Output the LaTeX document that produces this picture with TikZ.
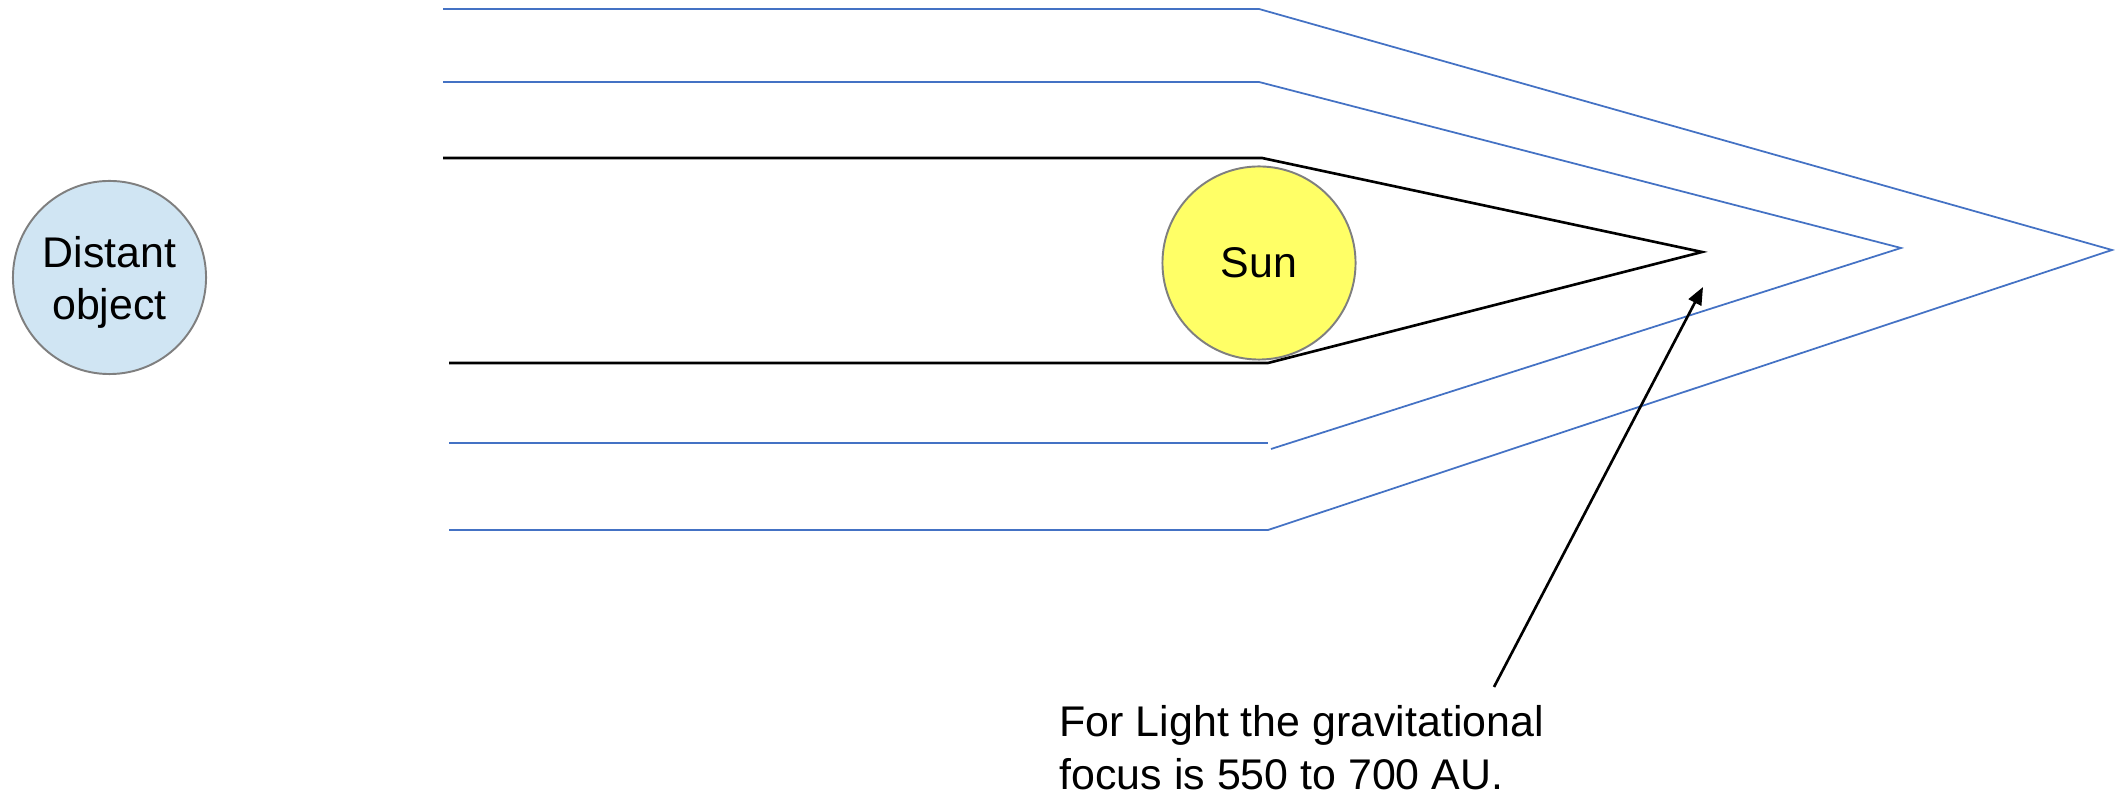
\documentclass[tikz,border=0pt]{standalone}
\usepackage{fontspec}
\setmainfont{Liberation Sans}
\usetikzlibrary{arrows.meta}
\definecolor{raycol}{HTML}{4472C4}
\definecolor{suncol}{HTML}{FFFF66}
\definecolor{farcol}{HTML}{D0E5F3}
\definecolor{rimcol}{HTML}{7F7F7F}
\begin{document}
\begin{tikzpicture}[x=0.01cm,y=-0.01cm,
  ray/.style={draw=raycol, line width=0.5pt},
  mainray/.style={draw=black, line width=0.75pt},
  body/.style={circle, draw=rimcol, line width=0.55pt, minimum size=1.93cm, inner sep=0pt, align=center, font=\fontsize{12.2}{14.8}\selectfont}]
\useasboundingbox (0,0) rectangle (2115,798);
\node[body, fill=farcol, text depth=0pt] (far) at (109.5,277.5) {Distant\\object};
\node[body, fill=suncol] (sun) at (1259,263) {Sun};

\coordinate (focus) at (1702,252);
\coordinate (focusb) at (1901,248);
\coordinate (focusc) at (2112,250);

\draw[ray] (443,9) -- (1259,9) -- (focusc) -- (1268,530) -- (449,530);
\draw[ray] (443,82) -- (1259,82) -- (focusb) -- (1271,449);
\draw[ray] (449,443) -- (1268,443);
\draw[mainray] (443,158) -- (1262,158) -- (focus) -- (1268,363) -- (449,363);

\node[anchor=north west, inner sep=0pt, align=left, font=\fontsize{12.2}{14.9}\selectfont] (note) at (1059,705) {For Light the gravitational\\focus is 550 to 700 AU.};
\coordinate (tail) at (1494,687);
\coordinate (head) at (1703,287);
\draw[-{Triangle[length=5pt,width=4pt]}, line width=0.75pt] (tail) -- (head);
\end{tikzpicture}
\end{document}
